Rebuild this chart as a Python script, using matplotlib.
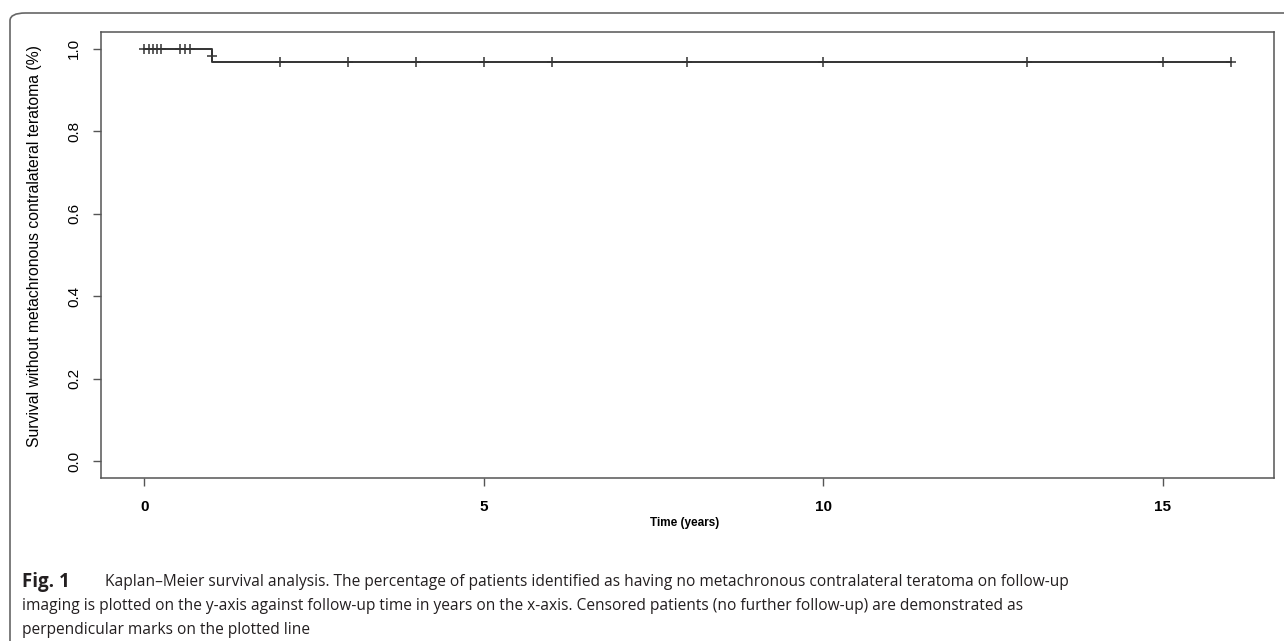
import matplotlib
matplotlib.use("Agg")
import matplotlib.pyplot as plt
from matplotlib.patches import FancyBboxPatch

# Kaplan-Meier curve (step, post)
km_time = [0.0, 1.0, 16.0]
km_surv = [1.0, 0.967, 0.967]

# censored patients (+ marks)
cens_time = [0.0, 0.07, 0.13, 0.19, 0.25, 0.53, 0.60, 0.67,
             1.0,
             2, 3, 4, 5, 6, 8, 10, 13, 15, 16]
cens_surv = [1.0] * 8 + [0.983] + [0.967] * 10

xticks = [0, 5, 10, 15]
yticks = [0.0, 0.2, 0.4, 0.6, 0.8, 1.0]

ylab = "Survival without metachronous contralateral teratoma (%)"
xlab = "Time (years)"
cap_bold = "Fig. 1"
cap_lines = ["Kaplan\u2013Meier survival analysis. The percentage of patients identified as having no metachronous contralateral teratoma on follow-up",
             "imaging is plotted on the y-axis against follow-up time in years on the x-axis. Censored patients (no further follow-up) are demonstrated as",
             "perpendicular marks on the plotted line"]

W, H = 1284, 641
fig = plt.figure(figsize=(W / 100, H / 100), dpi=100)
plt.rcParams['font.family'] = ['Liberation Sans', 'DejaVu Sans']

# outer rounded panel border (cut off at right / bottom)
box = FancyBboxPatch((10 / W, -0.5), 1.2, 0.5 + 1 - 13 / H,
                     boxstyle="round,pad=0,rounding_size=0.012",
                     transform=fig.transFigure, fill=False,
                     edgecolor='#666666', linewidth=1.2, clip_on=False)
fig.patches.append(box)

ax = fig.add_axes([100.7 / W, 1 - 478 / H, (1274 - 100.7) / W, (478 - 32) / H])
ax.step(km_time, km_surv, where='post', color='#333333', lw=1.4)
ax.plot(cens_time, cens_surv, '+', color='#333333', ms=7, mew=1.1)

ax.set_xlim(-0.64, 16.64)
ax.set_ylim(-0.04, 1.04)
ax.set_xticks(xticks)
ax.set_xticklabels([str(t) for t in xticks], fontsize=11, fontweight='bold')
ax.set_yticks(yticks)
ax.set_yticklabels(["%.1f" % v for v in yticks], fontsize=11, rotation=90, va='center')
ax.tick_params(direction='out', length=6, width=1, color='#555555', pad=10)
ax.tick_params(axis='y', pad=8)
for s in ax.spines.values():
    s.set_color('#555555')
    s.set_linewidth(1.1)

ax.set_ylabel(ylab, fontsize=11.3)
ax.yaxis.set_label_coords((35 - 100.7) / (1274 - 100.7), (478 - 246) / (478 - 32))
ax.yaxis.label.set_va('center')
ax.set_xlabel(xlab, fontsize=8.5, fontweight='bold')
ax.xaxis.set_label_coords((685 - 100.7) / (1274 - 100.7), (478 - 523) / (478 - 32))
ax.xaxis.label.set_va('center')

# caption
cap_col = '#231f20'
cap_font = ['Open Sans', 'DejaVu Sans']
fig.text(22 / W, 1 - 582 / H, cap_bold, fontsize=13.5, fontweight='bold',
         color=cap_col, va='center', family=cap_font)
fig.text(105 / W, 1 - 582 / H, cap_lines[0], fontsize=11.2, color=cap_col,
         va='center', family=cap_font)
fig.text(22 / W, 1 - 606 / H, cap_lines[1], fontsize=11.2, color=cap_col,
         va='center', family=cap_font)
fig.text(22 / W, 1 - 630 / H, cap_lines[2], fontsize=11.2, color=cap_col,
         va='center', family=cap_font)

fig.savefig("out.png", dpi=100)
